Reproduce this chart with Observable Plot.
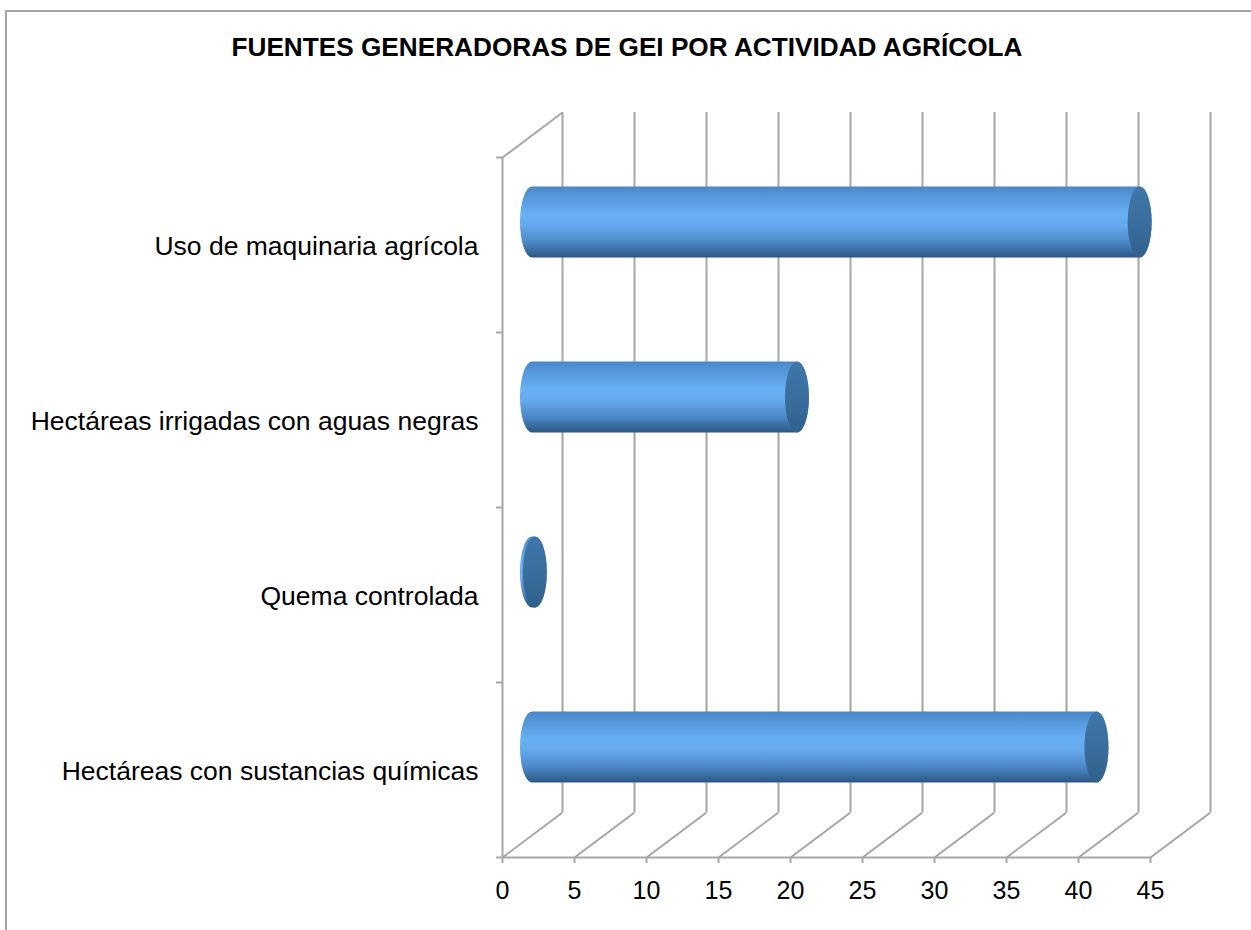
<!DOCTYPE html>
<html>
<head>
<meta charset="utf-8">
<script src="https://cdn.jsdelivr.net/npm/d3@7"></script>
<script src="https://cdn.jsdelivr.net/npm/@observablehq/plot@0.6"></script>
<style>
  html, body { margin: 0; padding: 0; background: #fff; }
  #wrap { position: relative; width: 1251px; height: 930px; overflow: hidden; font-family: "Liberation Sans", Arial, sans-serif; }
  #border { position: absolute; left: 5px; top: 10px; width: 1300px; height: 1000px; border-top: 2px solid #a6a6a6; border-left: 2px solid #a6a6a6; }
  #title { position: absolute; left: 0; width: 1254px; top: 32px; text-align: center; font-weight: bold; font-size: 26.2px; line-height: 30px; color: #000; }
  #chart { position: absolute; left: 0; top: 0; }
</style>
</head>
<body>
<div id="wrap">
  <div id="border"></div>
  <div id="title">FUENTES GENERADORAS DE GEI POR ACTIVIDAD AGRÍCOLA</div>
  <div id="chart"></div>
</div>
<script>
// Data (bottom to top order, as in the chart)
const categories = [
  "Hectáreas con sustancias químicas",
  "Quema controlada",
  "Hectáreas irrigadas con aguas negras",
  "Uso de maquinaria agrícola"
];
const values = [39.2, 0.2, 18.4, 42.2];
const xTicks = [0, 5, 10, 15, 20, 25, 30, 35, 40, 45];

const data = categories.map((c, i) => ({category: c, index: i, value: values[i]}));

// Layout / 3D style constants
const W = 1251, H = 930;
const mL = 502, mR = 101, mT = 157, mB = 73;
const pxPerX = (W - mL - mR) / 45;
const pxPerY = (H - mT - mB) / categories.length;
const depthPx = [60, -45];
const depthX = depthPx[0] / pxPerX;
const depthY = -depthPx[1] / pxPerY;
const barHalf = 0.203;
const gridColor = "#a6a6a6";

const plot = Plot.plot({
  width: W,
  height: H,
  marginLeft: mL,
  marginRight: mR,
  marginTop: mT,
  marginBottom: mB,
  style: {fontFamily: '"Liberation Sans", Arial, sans-serif', color: "#000", background: "transparent", overflow: "visible"},
  x: {domain: [0, 45], axis: null},
  y: {domain: [0, categories.length], axis: null},
  marks: [
    // back wall gridlines
    Plot.ruleX(xTicks, {y1: 0, y2: categories.length, dx: depthPx[0], dy: depthPx[1], stroke: gridColor, strokeWidth: 2}),
    // floor diagonals
    Plot.link(xTicks, {x1: d => d, y1: 0, x2: d => d + depthX, y2: depthY, stroke: gridColor, strokeWidth: 2}),
    // side wall top diagonal
    Plot.link([0], {x1: 0, y1: categories.length, x2: depthX, y2: categories.length + depthY, stroke: gridColor, strokeWidth: 2}),
    // front axes lines
    Plot.ruleX([0], {y1: 0, y2: categories.length, stroke: gridColor, strokeWidth: 2}),
    Plot.ruleY([0], {x1: 0, x2: 45, stroke: gridColor, strokeWidth: 2}),
    // cylinders body
    Plot.rectX(data, {
      x1: 0, x2: "value",
      y1: d => d.index + 0.5 - barHalf, y2: d => d.index + 0.5 + barHalf,
      dx: depthPx[0] / 2, dy: depthPx[1] / 2,
      insetLeft: -12, insetRight: -12, rx: 12, ry: 60,
      fill: "url(#cylGrad)"
    }),
    // cylinders end caps
    Plot.rectX(data, {
      x1: "value", x2: "value",
      y1: d => d.index + 0.5 - barHalf, y2: d => d.index + 0.5 + barHalf,
      dx: depthPx[0] / 2, dy: depthPx[1] / 2,
      insetLeft: -12, insetRight: -12, rx: 12, ry: 60,
      fill: "url(#capGrad)"
    }),
    // axes
    Plot.axisX({ticks: xTicks, tickSize: 6, tickPadding: 18, fontSize: 25, stroke: gridColor, strokeWidth: 2, label: null}),
    Plot.axisY({ticks: d3.range(0, categories.length + 1), tickSize: 6, tickFormat: () => "", stroke: gridColor, strokeWidth: 2, label: null}),
    Plot.axisY({ticks: categories.map((c, i) => i + 0.5), tickSize: 0, tickPadding: 24, fontSize: 26.5, dy: 2,
      tickFormat: d => categories[Math.floor(d)], label: null})
  ]
});

const defs = d3.select(plot).insert("defs", ":first-child");
const g = defs.append("linearGradient").attr("id", "cylGrad").attr("x1", 0).attr("y1", 0).attr("x2", 0).attr("y2", 1);
[[0, "#4a86c8"], [0.15, "#5698dc"], [0.4, "#68b0f4"], [0.55, "#64a9ec"], [0.8, "#4a85c2"], [1, "#2b5683"]]
  .forEach(([o, c]) => g.append("stop").attr("offset", o).attr("stop-color", c));
const g2 = defs.append("linearGradient").attr("id", "capGrad").attr("x1", 0).attr("y1", 0).attr("x2", 0).attr("y2", 1);
[[0, "#3f76a9"], [0.5, "#3a6e9e"], [1, "#31608c"]]
  .forEach(([o, c]) => g2.append("stop").attr("offset", o).attr("stop-color", c));

document.getElementById("chart").appendChild(plot);
</script>
</body>
</html>
